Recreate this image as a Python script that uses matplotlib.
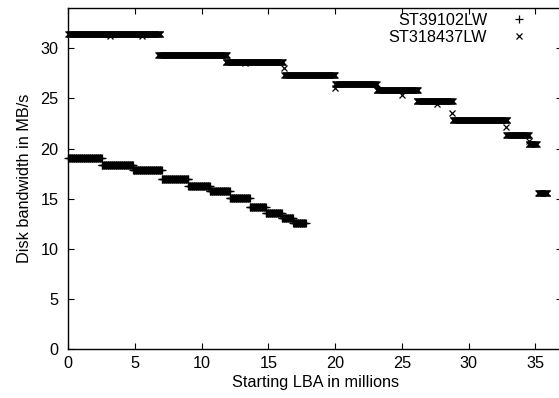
import numpy as np
import matplotlib
matplotlib.use("Agg")
import matplotlib.pyplot as plt

# zone table: start LBA, end LBA (millions), bandwidth (MB/s)
st39102_start = [0.0, 2.5, 4.85, 7.0, 9.0, 10.6, 12.1, 13.6, 14.8, 16.0, 16.85]
st39102_end = [2.5, 4.85, 7.0, 9.0, 10.6, 12.1, 13.6, 14.8, 16.0, 16.85, 17.8]
st39102_mbps = [19.07, 18.33, 17.83, 17.0, 16.27, 15.72, 15.07, 14.17, 13.57, 13.07, 12.57]

st318437_start = [0.0, 6.75, 11.8, 16.2, 20.0, 23.1, 26.1, 28.8, 32.8, 34.5, 35.2]
st318437_end = [6.9, 11.9, 16.1, 20.0, 23.1, 26.2, 28.8, 32.9, 34.5, 35.1, 35.9]
st318437_mbps = [31.45, 29.33, 28.63, 27.3, 26.45, 25.82, 24.7, 22.9, 21.33, 20.45, 15.57]

# isolated samples that fall between zones
st318437_odd_lba = [3.1, 5.5, 13.25, 16.2, 20.0, 25.0, 27.6, 28.74, 32.8, 34.5]
st318437_odd_mbps = [31.25, 31.25, 28.5, 28.0, 26.05, 25.35, 24.45, 23.55, 22.13, 20.8]

LBA_STEP = 0.05  # measurement spacing
FS = 11.7


def expand(starts, ends, levels):
    xs, ys = [], []
    for s, e, v in zip(starts, ends, levels):
        pts = np.arange(s, e + 1e-9, LBA_STEP)
        xs.extend(pts)
        ys.extend([v] * len(pts))
    return np.array(xs), np.array(ys)


x1, y1 = expand(st39102_start, st39102_end, st39102_mbps)
x2, y2 = expand(st318437_start, st318437_end, st318437_mbps)
x2 = np.concatenate([x2, st318437_odd_lba])
y2 = np.concatenate([y2, st318437_odd_mbps])

plt.rcParams['font.family'] = ['Liberation Sans', 'DejaVu Sans']

fig = plt.figure(figsize=(5.59, 3.98), dpi=100)
ax = fig.add_axes([68.3 / 559, 1 - 349 / 398, (562 - 68.3) / 559, (349 - 8.3) / 398])

h1, = ax.plot(x1, y1, linestyle='none', marker='+', markersize=5.5, markeredgewidth=0.9,
              color='black', clip_on=False)
h2, = ax.plot(x2, y2, linestyle='none', marker='x', markersize=4.5, markeredgewidth=0.9,
              color='black', clip_on=False)

ax.set_xlim(0, 37)
ax.set_ylim(0, 34)
ax.set_xticks([0, 5, 10, 15, 20, 25, 30, 35])
ax.set_yticks([0, 5, 10, 15, 20, 25, 30])

ax.tick_params(direction='in', length=4, width=0.8, top=True, right=True,
               labelsize=FS, colors='black')
ax.tick_params(axis='x', pad=5)
ax.tick_params(axis='y', pad=7)
for sp in ax.spines.values():
    sp.set_linewidth(1.0)

ax.set_xlabel('Starting LBA in millions', fontsize=FS, labelpad=3)
ax.set_ylabel('Disk bandwidth in MB/s', fontsize=FS, labelpad=6)

# gnuplot-style key: labels right-aligned, marker to the right
leg_kw = dict(loc='upper right', frameon=False, markerfirst=False, fontsize=FS,
              handlelength=1.0, handletextpad=1.45, borderaxespad=0, borderpad=0,
              bbox_transform=fig.transFigure)
leg1 = ax.legend([h1], ['ST39102LW'], bbox_to_anchor=(527 / 559, 1 - 13 / 398), **leg_kw)
ax.add_artist(leg1)
ax.legend([h2], ['ST318437LW'], bbox_to_anchor=(527 / 559, 1 - 29.5 / 398), **leg_kw)

fig.savefig('out.png', dpi=100)
